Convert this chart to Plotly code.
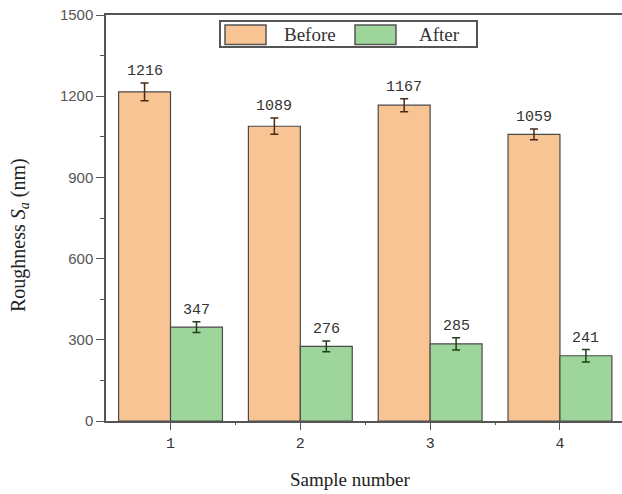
import plotly.graph_objects as go

samples = [1, 2, 3, 4]
before = [1216, 1089, 1167, 1059]
after = [347, 276, 285, 241]
before_err = [33, 30, 24, 20]
after_err = [20, 20, 23, 23]
series_names = ["Before", "After"]

C_BEFORE = "#F8C494"
C_AFTER = "#9ED59B"
EDGE = "#4a4a4a"

fig = go.Figure()
fig.add_trace(go.Bar(
    x=samples, y=before, name=series_names[0],
    marker=dict(color=C_BEFORE, line=dict(color=EDGE, width=1.2)),
    error_y=dict(type="data", array=before_err, color="#4a2a15", thickness=1.5, width=4),
    showlegend=False,
))
fig.add_trace(go.Bar(
    x=samples, y=after, name=series_names[1],
    marker=dict(color=C_AFTER, line=dict(color=EDGE, width=1.2)),
    error_y=dict(type="data", array=after_err, color="#1f3f1d", thickness=1.5, width=4),
    showlegend=False,
))

# value labels above error bars
for vals, errs, off in ((before, before_err, -0.2), (after, after_err, 0.2)):
    for s, v, e in zip(samples, vals, errs):
        fig.add_annotation(
            x=s + off, y=v + e, text=str(v), showarrow=False,
            yanchor="bottom", yshift=1,
            font=dict(family="Liberation Mono", size=15, color="#333333"),
        )

# plot area in pixels: x 106..622, y 15..421
L, R, T, B = 106, 622, 15, 421
def px(x):
    return (x - L) / (R - L)
def py(y):
    return (B - y) / (B - T)

shapes = []
# legend box
shapes.append(dict(type="rect", xref="paper", yref="paper",
                   x0=px(220), x1=px(477), y0=py(47), y1=py(21),
                   line=dict(color="#555555", width=2), fillcolor="white"))
shapes.append(dict(type="rect", xref="paper", yref="paper",
                   x0=px(225), x1=px(266), y0=py(44.5), y1=py(25),
                   line=dict(color="#555555", width=1.5), fillcolor=C_BEFORE))
shapes.append(dict(type="rect", xref="paper", yref="paper",
                   x0=px(355), x1=px(396), y0=py(44.5), y1=py(25),
                   line=dict(color="#555555", width=1.5), fillcolor=C_AFTER))
fig.add_annotation(xref="paper", yref="paper", x=px(310), y=py(34), text=series_names[0],
                   showarrow=False, xanchor="center", yanchor="middle",
                   font=dict(family="Liberation Serif", size=19, color="#333333"))
fig.add_annotation(xref="paper", yref="paper", x=px(439), y=py(34), text=series_names[1],
                   showarrow=False, xanchor="center", yanchor="middle",
                   font=dict(family="Liberation Serif", size=19, color="#333333"))

# axis titles
fig.add_annotation(xref="paper", yref="paper", x=px(350), y=py(479),
                   text="Sample number", showarrow=False,
                   xanchor="center", yanchor="middle",
                   font=dict(family="Liberation Serif", size=19, color="#222222"))
fig.add_annotation(xref="paper", yref="paper", x=px(19), y=py(235),
                   text="Roughness <i>S</i><sub><i>a</i></sub> (nm)", showarrow=False,
                   textangle=-90, xanchor="center", yanchor="middle",
                   font=dict(family="Liberation Serif", size=20, color="#222222"))

fig.update_layout(
    width=622, height=494,
    margin=dict(l=L, r=622 - R, t=T, b=494 - B),
    plot_bgcolor="white", paper_bgcolor="white",
    barmode="group", bargap=0.2, bargroupgap=0,
    shapes=shapes,
    xaxis=dict(
        range=[0.503, 4.478], tickmode="array", tickvals=samples,
        ticktext=[str(s) for s in samples],
        showline=True, linecolor="#555555", linewidth=1.5, mirror=True,
        ticks="outside", ticklen=7, tickwidth=1.2, tickcolor="#555555",
        minor=dict(tickmode="array", tickvals=[1.5, 2.5, 3.5], ticks="outside", ticklen=2, tickcolor="#555555"),
        showgrid=False, zeroline=False,
        tickfont=dict(family="Liberation Mono", size=15, color="#333333"),
    ),
    yaxis=dict(
        range=[0, 1500], tickmode="linear", tick0=0, dtick=300,
        showline=True, linecolor="#555555", linewidth=1.5,
        ticks="outside", ticklen=8, tickwidth=1.2, tickcolor="#555555",
        minor=dict(dtick=150, ticks="outside", ticklen=4, tickcolor="#555555"),
        showgrid=False, zeroline=False,
        tickfont=dict(family="Liberation Sans", size=15, color="#555555"),
    ),
)

fig.write_html("out.html")
